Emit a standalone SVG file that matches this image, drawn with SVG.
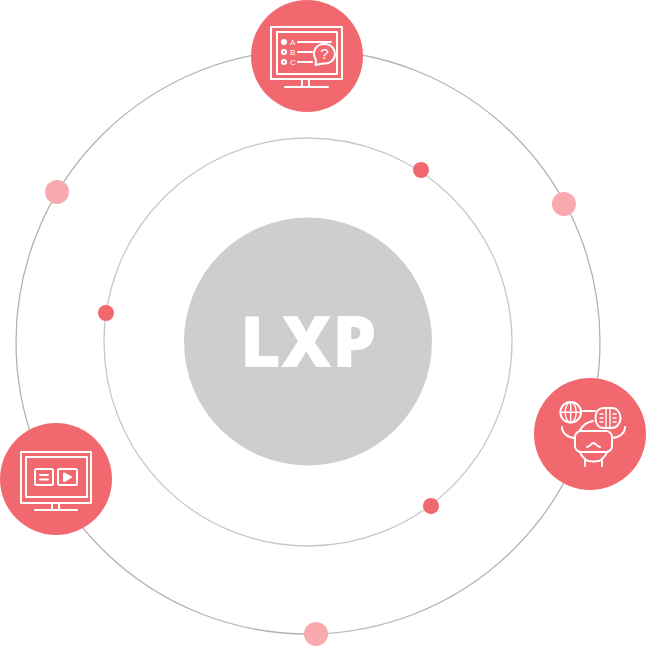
<svg xmlns="http://www.w3.org/2000/svg" width="647" height="647" viewBox="0 0 647 647">
<style>
.ring{fill:none}
.red{fill:#f2686f}
.pale{fill:#f9aaae}
.ic{fill:none;stroke:#fff;stroke-width:2;stroke-linecap:round;stroke-linejoin:round}
.fine{stroke-width:1.4}
.wf{fill:#fff}
.lbl{font-family:"Liberation Sans",Arial,sans-serif;fill:#fff}
</style>
<rect width="647" height="647" fill="#fff"/>
<g id="connectors">
<circle class="ring" cx="308" cy="342" r="292" stroke="#b3b3b3" stroke-width="1.3"/>
<circle class="ring" cx="308" cy="342" r="204" stroke="#c9c9c9" stroke-width="1.3"/>
</g>
<g id="node-center">
<circle cx="308" cy="341.500" r="124" fill="#cfcecc"/>
<text x="308.500" y="366.700" text-anchor="middle" font-family="'Open Sans',sans-serif" font-weight="800" font-size="70" letter-spacing="0.500" fill="#fff">LXP</text>
</g>
<g id="dot-1"><circle class="pale" cx="57" cy="192" r="12"/></g>
<g id="dot-2"><circle class="pale" cx="564" cy="204" r="12"/></g>
<g id="dot-3"><circle class="pale" cx="316" cy="634" r="12"/></g>
<g id="dot-4"><circle class="red" cx="421" cy="170" r="8"/></g>
<g id="dot-5"><circle class="red" cx="106" cy="313" r="8"/></g>
<g id="dot-6"><circle class="red" cx="431" cy="506" r="8"/></g>
<g id="node-quiz">
<circle class="red" cx="307" cy="56" r="56"/>
<rect class="ic" x="271" y="27" width="71" height="52"/>
<rect class="ic" x="277" y="32" width="60" height="42"/>
<path class="ic" d="M302 79V87M309 79V87M285 87H328"/>
<circle class="wf" cx="284" cy="42" r="3"/>
<circle class="ic" cx="284" cy="52" r="2"/>
<circle class="ic" cx="284" cy="62" r="2"/>
<text class="lbl" x="290" y="45" font-size="8">A</text>
<text class="lbl" x="290" y="55" font-size="8">B</text>
<text class="lbl" x="290" y="65" font-size="8">C</text>
<path class="ic" d="M298 42H331M298 52H312M298 62H312"/>
<path class="ic" d="M316 60C311 52 316 44 324.500 44C332 44 335 50 335 54C335 60 330 63.500 325 63.500C323 63.500 321 63.500 320 64L315.500 65Z"/>
<text class="lbl" x="324.500" y="59" font-size="15" text-anchor="middle">?</text>
</g>
<g id="node-vr">
<circle class="red" cx="590" cy="434" r="56"/>
<circle class="ic" cx="570.700" cy="412.300" r="10.300"/>
<ellipse class="ic fine" cx="570.700" cy="412.300" rx="5.500" ry="10.300"/>
<path class="ic fine" d="M570.700 402V422.600M560.500 412.300H581"/>
<path class="ic" d="M582 411H595"/>
<path class="ic" d="M604 408H612C618 408 620.500 414 620.500 418C620.500 423 617 428 612 428H604C598 428 595.500 423 595.500 418C595.500 413 598 408 604 408Z"/>
<path class="ic fine" d="M606 408V428M610 408V428M600 414H603M600 418H603M600 422H603M613 414H616M613 418H616M613 422H616"/>
<path class="ic" d="M580 430C583 425 587 422 593 421"/>
<path class="ic" d="M562 427C562 433 568 438 575 438M625 427C625 433 619 438 612 438"/>
<rect class="ic" x="575" y="431" width="37" height="21" rx="6"/>
<path class="ic" d="M587 447C590 447 591 443 593.500 443C596 443 597 447 600 447"/>
<path class="ic" d="M580 452C581 456 584 458 586 460C589 462 598 462 601 460C603 458 606 456 607 452"/>
<path class="ic" d="M585 459V466M602 459V466"/>
</g>
<g id="node-video">
<circle class="red" cx="56" cy="479" r="56"/>
<rect class="ic" x="21" y="452" width="70" height="51"/>
<rect class="ic" x="26" y="457" width="61" height="40"/>
<path class="ic" d="M52 503V510M59 503V510M35 510H77"/>
<rect class="ic" x="35" y="469" width="18" height="16" rx="1.500"/>
<rect class="ic" x="58" y="469" width="19" height="16" rx="1.500"/>
<path class="ic" d="M40 475H48M40 479.500H48"/>
<path class="ic wf" d="M64 473.500V481L71 477.200Z"/>
</g>
</svg>
